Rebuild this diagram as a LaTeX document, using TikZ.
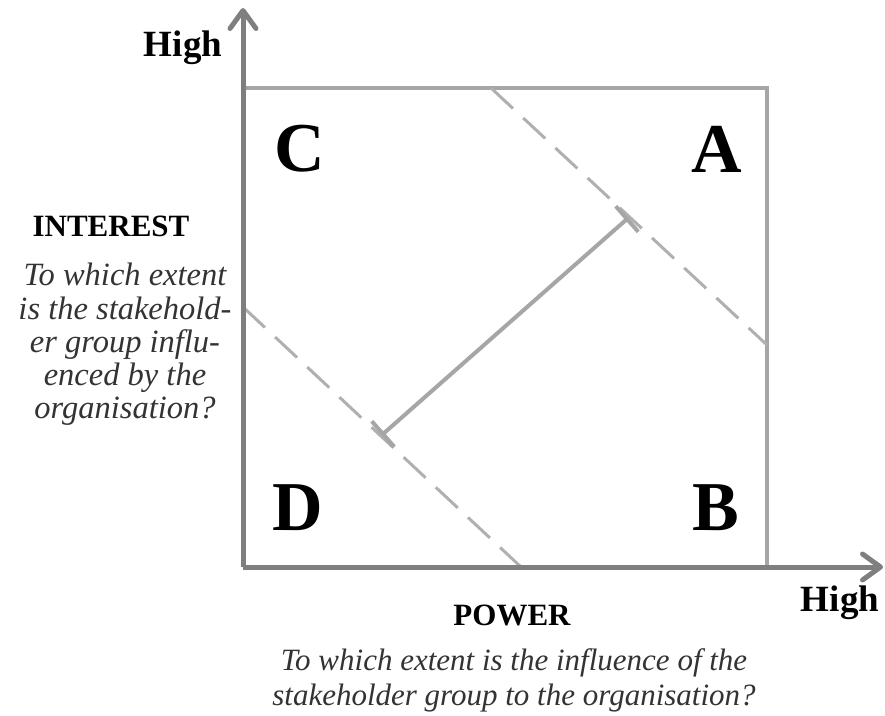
\documentclass[tikz,border=0pt]{standalone}
\usepackage{fontspec}
\setmainfont{Liberation Serif}
\usepackage{tikz}
\usetikzlibrary{arrows.meta, positioning, calc}
\definecolor{axisgray}{RGB}{127, 127, 127}
\definecolor{boxgray}{RGB}{166, 166, 166}
\definecolor{dashgray}{RGB}{176, 176, 176}

\tikzset{
  axisline/.style={draw=axisgray, line width=5pt, -{Straight Barb[length=18pt, width=26pt, round]}},
  boxline/.style={draw=boxgray, line width=4pt},
  splitline/.style={draw=dashgray, line width=3pt, dash pattern=on 30pt off 14pt},
  quadlabel/.style={font=\fontsize{70}{70}\selectfont\bfseries, inner sep=0pt},
  axistitle/.style={font=\fontsize{31}{33}\selectfont\bfseries, inner sep=0pt},
  axisnote/.style={text=black!80, align=center, inner sep=0pt},
  highlabel/.style={font=\fontsize{37}{40}\selectfont\bfseries, inner sep=0pt, anchor=base}
}

\begin{document}
\begin{tikzpicture}[x=1pt, y=-1pt]
          \useasboundingbox (0,0) rectangle (885,715);

          % Corners
          \coordinate (origin) at (243,567);
          \coordinate (ytip) at (243,8);
          \coordinate (xtip) at (883,567);
          \coordinate (topleft) at (243,88);
          \coordinate (botright) at (767,567);

          % Box
          \draw[boxline] (topleft) -| (botright);

          % Split lines
          \coordinate (d1a) at (491,88);
          \coordinate (d1b) at (767,345);
          \coordinate (d2a) at (243,307);
          \coordinate (d2b) at (521,567);
          \draw[splitline] (d1a) -- (d1b);
          \draw[splitline] (d2a) -- (d2b);
          \coordinate (s1) at (383,434);
          \coordinate (s2) at (627,219);
          \draw[boxline] (s1) -- (s2);
          \draw[boxline] ($(s1)!17pt!90:(s2)$) -- ($(s1)!17pt!-90:(s2)$);
          \draw[boxline] ($(s2)!17pt!90:(s1)$) -- ($(s2)!17pt!-90:(s1)$);

          % Axes
          \draw[axisline] (origin) -- (ytip);
          \draw[axisline] (origin) -- (xtip);

          % Quadrants
          \node[quadlabel] (qc) at (300,149) {C};
          \node[quadlabel] (qa) at (717,149) {A};
          \node[quadlabel] (qd) at (298,508) {D};
          \node[quadlabel] (qb) at (716,508) {B};

          % Axis labels
          \node[highlabel] (yhigh) at (183,56) {High};
          \node[highlabel] (xhigh) at (840,611) {High};

          \node[axistitle] (interest) at (111,226) {INTEREST};
          \node[axisnote, anchor=north, font=\fontsize{32.5}{33.3}\selectfont\itshape] (interestnote) at (125,263)
               {To which extent\\is the stakehold-\\er group influ-\\enced by the\\organisation?};

          \node[axistitle] (power) at (512,615) {POWER};
          \node[axisnote, anchor=north, font=\fontsize{31}{35}\selectfont\itshape] (powernote) at (514,648)
               {To which extent is the influence of the\\stakeholder group to the organisation?};
    \end{tikzpicture}
\end{document}
